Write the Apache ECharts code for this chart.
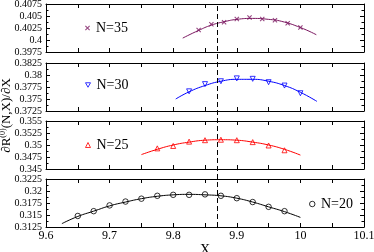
<!DOCTYPE html>
<html><head><meta charset="utf-8">
<script src="https://cdn.jsdelivr.net/npm/echarts/dist/echarts.min.js"></script>
<style>html,body{margin:0;padding:0;background:#fff}#c{width:374px;height:252px}</style>
</head><body><div id="c"></div>
<script>
// ---- data ----
const seriesNames = ['N=35', 'N=30', 'N=25', 'N=20'];
const xTicks = [9.6, 9.7, 9.8, 9.9, 10, 10.1];
const yMins = [0.3975, 0.3725, 0.345, 0.3125];
const yMaxs = [0.4075, 0.3825, 0.355, 0.3225];
const dashX = 9.87;

const x35 = [9.84, 9.86, 9.88, 9.90, 9.92, 9.94, 9.96, 9.98, 10.00];
const y35 = [0.4021, 0.4033, 0.4037, 0.4044, 0.4047, 0.4044, 0.4041, 0.4035, 0.4026];
const fitX35 = [9.815, 9.84, 9.86, 9.88, 9.90, 9.925, 9.95, 9.97, 10.00, 10.025];
const fitY35 = [0.4004, 0.4020, 0.4031, 0.4038, 0.4043, 0.4045, 0.4043, 0.4039, 0.4026, 0.4011];

const x30 = [9.825, 9.85, 9.875, 9.90, 9.925, 9.95, 9.975, 10.00];
const y30 = [0.3766, 0.3781, 0.3787, 0.3793, 0.3792, 0.3785, 0.3778, 0.3762];
const fitX30 = [9.804, 9.825, 9.85, 9.875, 9.90, 9.925, 9.95, 9.975, 10.00, 10.026];
const fitY30 = [0.3750, 0.3765, 0.3778, 0.3787, 0.3791, 0.3791, 0.3787, 0.3778, 0.3764, 0.3745];

const x25 = [9.775, 9.80, 9.825, 9.85, 9.875, 9.90, 9.925, 9.95, 9.975];
const y25 = [0.3493, 0.3498, 0.3507, 0.3510, 0.3511, 0.3510, 0.3506, 0.3499, 0.3489];
const fitX25 = [9.75, 9.775, 9.80, 9.825, 9.85, 9.875, 9.90, 9.925, 9.95, 9.975, 10.00];
const fitY25 = [0.3480, 0.3491, 0.3500, 0.3506, 0.3510, 0.3511, 0.3510, 0.3506, 0.3500, 0.3491, 0.3479];

const x20 = [9.65, 9.675, 9.70, 9.725, 9.75, 9.775, 9.80, 9.825, 9.85, 9.875, 9.90, 9.925, 9.95, 9.975];
const y20 = [0.3148, 0.3158, 0.3170, 0.3178, 0.3184, 0.3190, 0.3192, 0.3192, 0.3193, 0.3190, 0.3185, 0.3177, 0.3167, 0.3158];
const fitX20 = [9.625, 9.65, 9.675, 9.70, 9.725, 9.75, 9.775, 9.80, 9.825, 9.85, 9.875, 9.90, 9.925, 9.95, 9.975, 10.00];
const fitY20 = [0.3132, 0.3147, 0.3158, 0.3169, 0.3177, 0.3184, 0.3189, 0.3192, 0.3193, 0.3192, 0.3190, 0.3185, 0.3177, 0.3167, 0.3157, 0.3145];

// ---- build ----
const FONT = 'Liberation Serif';
const pts = (xs, ys) => xs.map((x, i) => [x, ys[i]]);
const markerX = [x35, x30, x25, x20], markerY = [y35, y30, y25, y20];
const fitX = [fitX35, fitX30, fitX25, fitX20], fitY = [fitY35, fitY30, fitY25, fitY20];
const colors = ['#7b1760', '#0000ff', '#ff0000', '#000000'];
const symbols = [
  'path://M0,1.5L1.5,0L5,3.5L8.5,0L10,1.5L6.5,5L10,8.5L8.5,10L5,6.5L1.5,10L0,8.5L3.5,5Z',
  'triangle', 'triangle', 'circle'];
const legendIcons = [symbols[0], 'path://M0,0L10,0L5,9Z', 'triangle', 'circle'];
const symRot = [0, 180, 0, 0];
const symSize = [5, 5, 5, 5.5];
const gridTops = [4, 63, 121, 179];
const gridH = 48, gridLeft = 46, gridW = 318;
const legendPos = [[85, 21], [85, 78], [85, 138], [309, 197]];

const grid = [], xAxis = [], yAxis = [], series = [], legend = [];
const axLine = {lineStyle: {color: '#000', width: 1}};
for (let i = 0; i < 4; i++) {
  grid.push({left: gridLeft, top: gridTops[i], width: gridW, height: gridH,
    containLabel: false, outerBoundsMode: 'none'});
  const isLast = i === 3;
  ['bottom', 'top'].forEach((pos, k) => {
    xAxis.push({
      gridIndex: i, type: 'value', position: pos, min: 9.6, max: 10.1, interval: 0.1,
      axisLine: axLine,
      axisTick: {show: true, inside: true, length: 4, lineStyle: {color: '#000'}},
      minorTick: {show: true, splitNumber: 2, length: 4, lineStyle: {color: '#000'}},
      splitLine: {show: false},
      axisLabel: {show: isLast && k === 0, color: '#000', fontFamily: FONT, fontSize: 12, margin: 3,
        formatter: v => String(parseFloat(v.toFixed(2)))},
      name: (isLast && k === 0) ? 'X' : '', nameLocation: 'middle', nameGap: 12,
      nameTextStyle: {color: '#000', fontFamily: FONT, fontSize: 14}
    });
  });
  ['left', 'right'].forEach((pos, k) => {
    yAxis.push({
      gridIndex: i, type: 'value', position: pos, min: yMins[i], max: yMaxs[i], interval: 0.0025,
      axisLine: axLine,
      axisTick: {show: true, inside: true, length: 4, lineStyle: {color: '#000'}},
      minorTick: {show: true, splitNumber: 2, length: 2.5, lineStyle: {color: '#000'}},
      splitLine: {show: false},
      axisLabel: {show: k === 0, color: '#000', fontFamily: FONT, fontSize: 10, margin: 4,
        formatter: v => String(parseFloat(v.toFixed(4)))}
    });
  });
  series.push({
    type: 'line', name: 'fit' + i, xAxisIndex: 2 * i, yAxisIndex: 2 * i,
    data: pts(fitX[i], fitY[i]), smooth: true, showSymbol: false, silent: true,
    lineStyle: {color: colors[i], width: 1}, z: 2
  });
  const hollow = i > 0;
  const style = hollow ? {color: 'rgba(255,255,255,0)', borderColor: colors[i], borderWidth: 1}
                       : {color: colors[i], borderWidth: 0};
  series.push({
    type: 'scatter', name: seriesNames[i], xAxisIndex: 2 * i, yAxisIndex: 2 * i,
    data: pts(markerX[i], markerY[i]), symbol: symbols[i], symbolSize: symSize[i], symbolRotate: symRot[i],
    itemStyle: style, z: 3
  });
  legend.push({
    data: [{name: seriesNames[i], icon: legendIcons[i]}], left: legendPos[i][0], top: legendPos[i][1],
    orient: 'horizontal',
    itemWidth: symSize[i], itemHeight: symSize[i], itemGap: 0, padding: 0, selectedMode: false,
    itemStyle: Object.assign({}, style),
    textStyle: {color: '#000', fontFamily: FONT, fontSize: 14, padding: [0, 0, 0, 1]}
  });
}
// full-height overlay grid for the dashed line and the y title
grid.push({left: gridLeft, top: gridTops[0], width: gridW, height: gridTops[3] + gridH - gridTops[0],
  containLabel: false, outerBoundsMode: 'none'});
xAxis.push({gridIndex: 4, type: 'value', min: 9.6, max: 10.1, show: false});
yAxis.push({gridIndex: 4, type: 'value', min: 0, max: 1, axisLine: {show: false}, axisTick: {show: false},
  axisLabel: {show: false}, splitLine: {show: false},
  name: '∂R{s|(0)}(N,X)/∂X', nameLocation: 'middle', nameRotate: 90, nameGap: 32,
  nameTextStyle: {color: '#000', fontFamily: FONT, fontSize: 13,
    rich: {s: {fontFamily: FONT, fontSize: 8, padding: [0, 0, 7, 0]}}}});
series.push({
  type: 'line', name: 'dash', xAxisIndex: 8, yAxisIndex: 8, data: [], silent: true,
  markLine: {symbol: 'none', silent: true, label: {show: false},
    lineStyle: {color: '#000', type: [5, 3], width: 1},
    data: [{xAxis: dashX}]}
});

const chart = echarts.init(document.getElementById('c'), null, {renderer: 'canvas'});
chart.setOption({animation: false, backgroundColor: '#fff', grid, xAxis, yAxis, series, legend});
</script>
</body></html>
